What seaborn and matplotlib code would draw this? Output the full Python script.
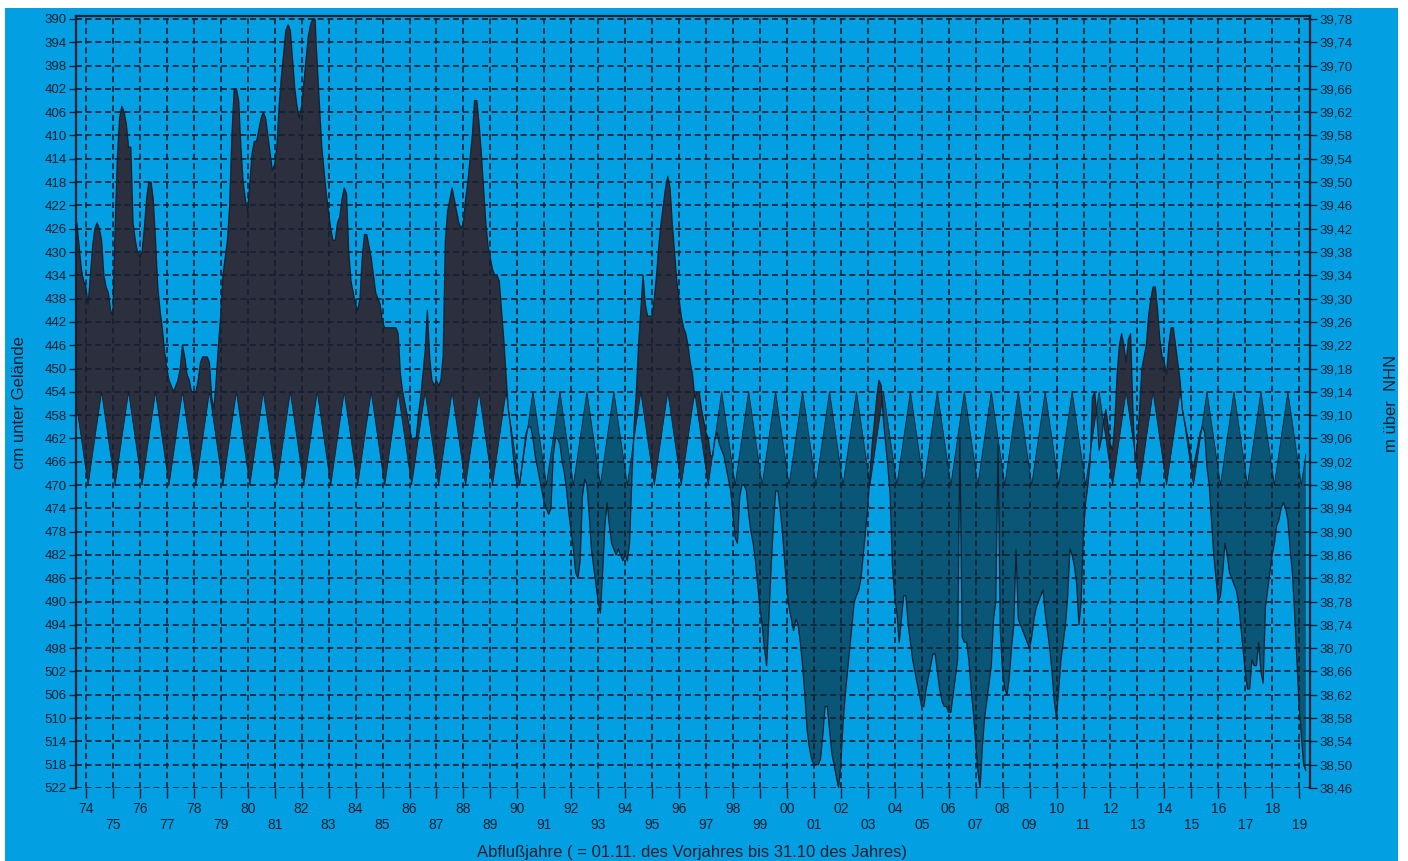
import numpy as np
import pandas as pd
import matplotlib
matplotlib.use("Agg")
import matplotlib.pyplot as plt
from matplotlib.patches import Rectangle
import seaborn as sns

# Grundwasserstand, Monatswerte in cm unter Gelände (Nov. bis Okt. je Abflussjahr)
level_1974_1979 = [
    425, 429, 433, 435, 436, 439, 434, 429, 426, 425, 426, 428,  # 74
    434, 436, 437, 440, 441, 426, 414, 407, 405, 406, 408, 412,  # 75
    412, 425, 428, 430, 431, 430, 426, 421, 418, 418, 421, 428,  # 76
    436, 440, 443, 447, 450, 452, 453, 454, 453, 452, 450, 446,  # 77
    448, 451, 452, 454, 454, 454, 452, 449, 448, 448, 448, 449,  # 78
    455, 457, 452, 446, 441, 434, 431, 428, 422, 410, 402, 402,  # 79
]
level_1980_1989 = [
    404, 412, 418, 421, 423, 418, 413, 411, 411, 409, 407, 406,  # 80
    407, 410, 413, 416, 415, 412, 405, 400, 396, 392, 391, 392,  # 81
    397, 402, 405, 407, 405, 401, 397, 393, 391, 390, 390, 398,  # 82
    405, 412, 416, 420, 423, 426, 428, 428, 425, 424, 421, 419,  # 83
    420, 430, 435, 437, 439, 440, 438, 431, 427, 427, 429, 431,  # 84
    434, 437, 438, 439, 442, 443, 443, 443, 443, 443, 443, 444,  # 85
    451, 454, 456, 458, 460, 462, 462, 462, 458, 455, 451, 447,  # 86
    440, 448, 452, 453, 452, 453, 452, 448, 428, 423, 421, 419,  # 87
    421, 423, 425, 426, 425, 421, 418, 414, 410, 404, 404, 408,  # 88
    413, 419, 425, 429, 431, 433, 434, 434, 435, 440, 445, 451,  # 89
]
level_1990_1999 = [
    457, 460, 464, 468, 470, 470, 467, 464, 461, 460, 460, 462,  # 90
    465, 467, 469, 471, 473, 474, 475, 474, 465, 462, 462, 463,  # 91
    466, 468, 471, 475, 478, 481, 485, 486, 483, 472, 469, 470,  # 92
    475, 481, 484, 487, 490, 492, 485, 477, 473, 477, 480, 481,  # 93
    482, 481, 482, 483, 482, 483, 480, 469, 460, 454, 446, 440,  # 94
    434, 439, 441, 441, 441, 438, 434, 429, 425, 422, 419, 417,  # 95
    419, 425, 430, 435, 438, 441, 443, 444, 446, 449, 451, 455,  # 96
    454, 454, 457, 459, 461, 462, 465, 465, 462, 461, 463, 464,  # 97
    465, 467, 469, 471, 475, 479, 480, 472, 470, 470, 471, 475,  # 98
    478, 480, 483, 487, 491, 494, 498, 501, 493, 484, 477, 471,  # 99
]
level_2000_2009 = [
    471, 474, 478, 483, 488, 491, 493, 495, 493, 494, 497, 501,  # 00
    506, 512, 515, 517, 518, 518, 518, 517, 513, 508, 508, 512,  # 01
    516, 518, 520, 522, 518, 511, 506, 502, 498, 494, 490, 489,  # 02
    488, 486, 482, 478, 474, 468, 463, 459, 455, 452, 453, 459,  # 03
    463, 467, 472, 484, 489, 492, 497, 493, 489, 489, 494, 497,  # 04
    500, 502, 504, 506, 508, 508, 505, 503, 501, 499, 499, 502,  # 05
    505, 507, 508, 508, 509, 509, 506, 503, 500, 462, 496, 497,  # 06
    497, 500, 505, 509, 514, 519, 522, 515, 510, 507, 504, 501,  # 07
    493, 490, 463, 495, 502, 505, 506, 503, 498, 494, 481, 493,  # 08
    494, 495, 496, 497, 498, 496, 493, 491, 490, 489, 488, 492,  # 09
]
level_2010_2019 = [
    495, 498, 502, 507, 510, 505, 500, 497, 494, 489, 481, 482,  # 10
    484, 487, 494, 490, 478, 473, 470, 466, 455, 454, 458, 464,  # 11
    462, 459, 457, 460, 463, 464, 459, 451, 446, 444, 446, 449,  # 12
    445, 444, 457, 466, 463, 457, 450, 448, 446, 441, 438, 436,  # 13
    436, 440, 445, 448, 449, 451, 446, 443, 443, 446, 449, 452,  # 14
    457, 459, 461, 463, 466, 467, 465, 463, 461, 460, 461, 467,  # 15
    470, 476, 482, 486, 490, 489, 485, 480, 482, 485, 486, 487,  # 16
    488, 490, 494, 498, 502, 505, 505, 500, 501, 501, 497, 502,  # 17
    504, 491, 488, 485, 482, 480, 477, 476, 474, 473, 474, 476,  # 18
    481, 485, 492, 500, 508, 513, 518, 519,                      # 19
]

# mittlerer Jahresgang (Monatswerte, cm unter Gelände)
mean_cycle = [456.7, 459.3, 462.0, 464.7, 467.3, 470.0,
              467.3, 464.7, 462.0, 459.3, 456.7, 454.0]

# Achsen
years = list(range(1974, 2020))
year_labels = [f"{y % 100:02d}" for y in years]
cm_ticks = list(range(390, 523, 4))
gelaende_nhn = 43.68          # Geländehöhe in m über NHN
first_month = 1973.663        # Lage des ersten Monatswerts auf der Zeitachse

level = np.array(level_1974_1979 + level_1980_1989 + level_1990_1999
                 + level_2000_2009 + level_2010_2019, dtype=float)
t = first_month + np.arange(len(level)) / 12.0
mean = np.resize(np.array(mean_cycle), len(level))
df = pd.DataFrame({"t": t, "level": level, "mean": mean})

# Farben
BLUE = "#02a0e2"
HIGH = "#2c2f3d"
LOW = "#0a5676"
INK = "#142030"

sns.set_theme(style="white")
plt.rcParams["font.family"] = ["Liberation Sans", "DejaVu Sans"]

W, H = 1408, 861
fig = plt.figure(figsize=(W / 100, H / 100), dpi=100)
fig.patch.set_facecolor("white")
fig.patches.append(Rectangle((5 / W, 0), (1398 - 5) / W, (H - 7.5) / H,
                             transform=fig.transFigure, facecolor=BLUE,
                             edgecolor="none", zorder=-10))

left, right, top, bottom = 76, 1310, 16, 788
ax = fig.add_axes([left / W, (H - bottom) / H, (right - left) / W, (bottom - top) / H])
ax.set_facecolor(BLUE)

# Abweichung vom mittleren Jahresgang
ax.fill_between(df["t"], df["level"], df["mean"], where=df["level"] <= df["mean"],
                interpolate=True, color=HIGH, lw=0, zorder=1)
ax.fill_between(df["t"], df["level"], df["mean"], where=df["level"] >= df["mean"],
                interpolate=True, color=LOW, lw=0, zorder=1)
sns.lineplot(data=df, x="t", y="mean", ax=ax, color=INK, lw=0.6,
             estimator=None, sort=False, zorder=2)
sns.lineplot(data=df, x="t", y="level", ax=ax, color=INK, lw=0.9,
             estimator=None, sort=False, zorder=2)

ax.set_xlim(1973.63, 2019.4)
ax.set_ylim(522, 389.49)
ax.set_xlabel("")
ax.set_ylabel("")

# x-Achse: gerade Jahre oben, ungerade darunter
even = [y for y in years if y % 2 == 0]
odd = [y for y in years if y % 2 == 1]
ax.set_xticks(even)
ax.set_xticklabels([year_labels[years.index(y)] for y in even])
ax.set_xticks(odd, minor=True)
ax.set_xticklabels([year_labels[years.index(y)] for y in odd], minor=True)
ax.tick_params(axis="x", which="both", direction="out", length=7, width=1,
               color=INK, labelsize=10, labelcolor=INK, bottom=True)
ax.tick_params(axis="x", which="major", pad=3)
ax.tick_params(axis="x", which="minor", pad=14.5)

ax.set_yticks(cm_ticks)
ax.set_yticklabels([str(c) for c in cm_ticks])
ax.tick_params(axis="y", direction="out", length=5, width=1, color=INK,
               labelsize=9.5, labelcolor=INK, pad=1.5, left=True)

grid_style = dict(color=INK, lw=1.2, linestyle=(0, (3.6, 2.2)))
ax.grid(True, axis="x", which="both", **grid_style)
ax.grid(True, axis="y", which="major", **grid_style)
ax.set_axisbelow(False)

for side in ("left", "top"):
    ax.spines[side].set_visible(True)
    ax.spines[side].set_color(INK)
    ax.spines[side].set_linewidth(1.6)
ax.spines["right"].set_visible(False)
ax.spines["bottom"].set_visible(False)

# rechte Achse: m über NHN
ax2 = ax.twinx()
ax2.set_ylim(ax.get_ylim())
ax2.set_yticks(cm_ticks)
ax2.set_yticklabels([f"{gelaende_nhn - c / 100:.2f}".replace(".", ",") for c in cm_ticks])
ax2.tick_params(axis="y", direction="out", length=5, width=1, color=INK,
                labelsize=9.5, labelcolor=INK, pad=1.5, right=True)
ax2.grid(False)
for side in ("left", "top", "bottom"):
    ax2.spines[side].set_visible(False)
ax2.spines["right"].set_visible(True)
ax2.spines["right"].set_color(INK)
ax2.spines["right"].set_linewidth(1.6)

fig.text(20 / W, 1 - 403 / H, "cm unter Gelände", rotation=90, ha="center",
         va="center", fontsize=12, color=INK)
fig.text(1392 / W, 1 - 403 / H, "m über  NHN", rotation=90, ha="center",
         va="center", fontsize=12, color=INK)
fig.text(692 / W, 1 - 852 / H,
         "Abflußjahre ( = 01.11. des Vorjahres bis 31.10 des Jahres)",
         ha="center", va="center", fontsize=12, color=INK)

fig.savefig("out.png", dpi=100, facecolor=fig.get_facecolor())
